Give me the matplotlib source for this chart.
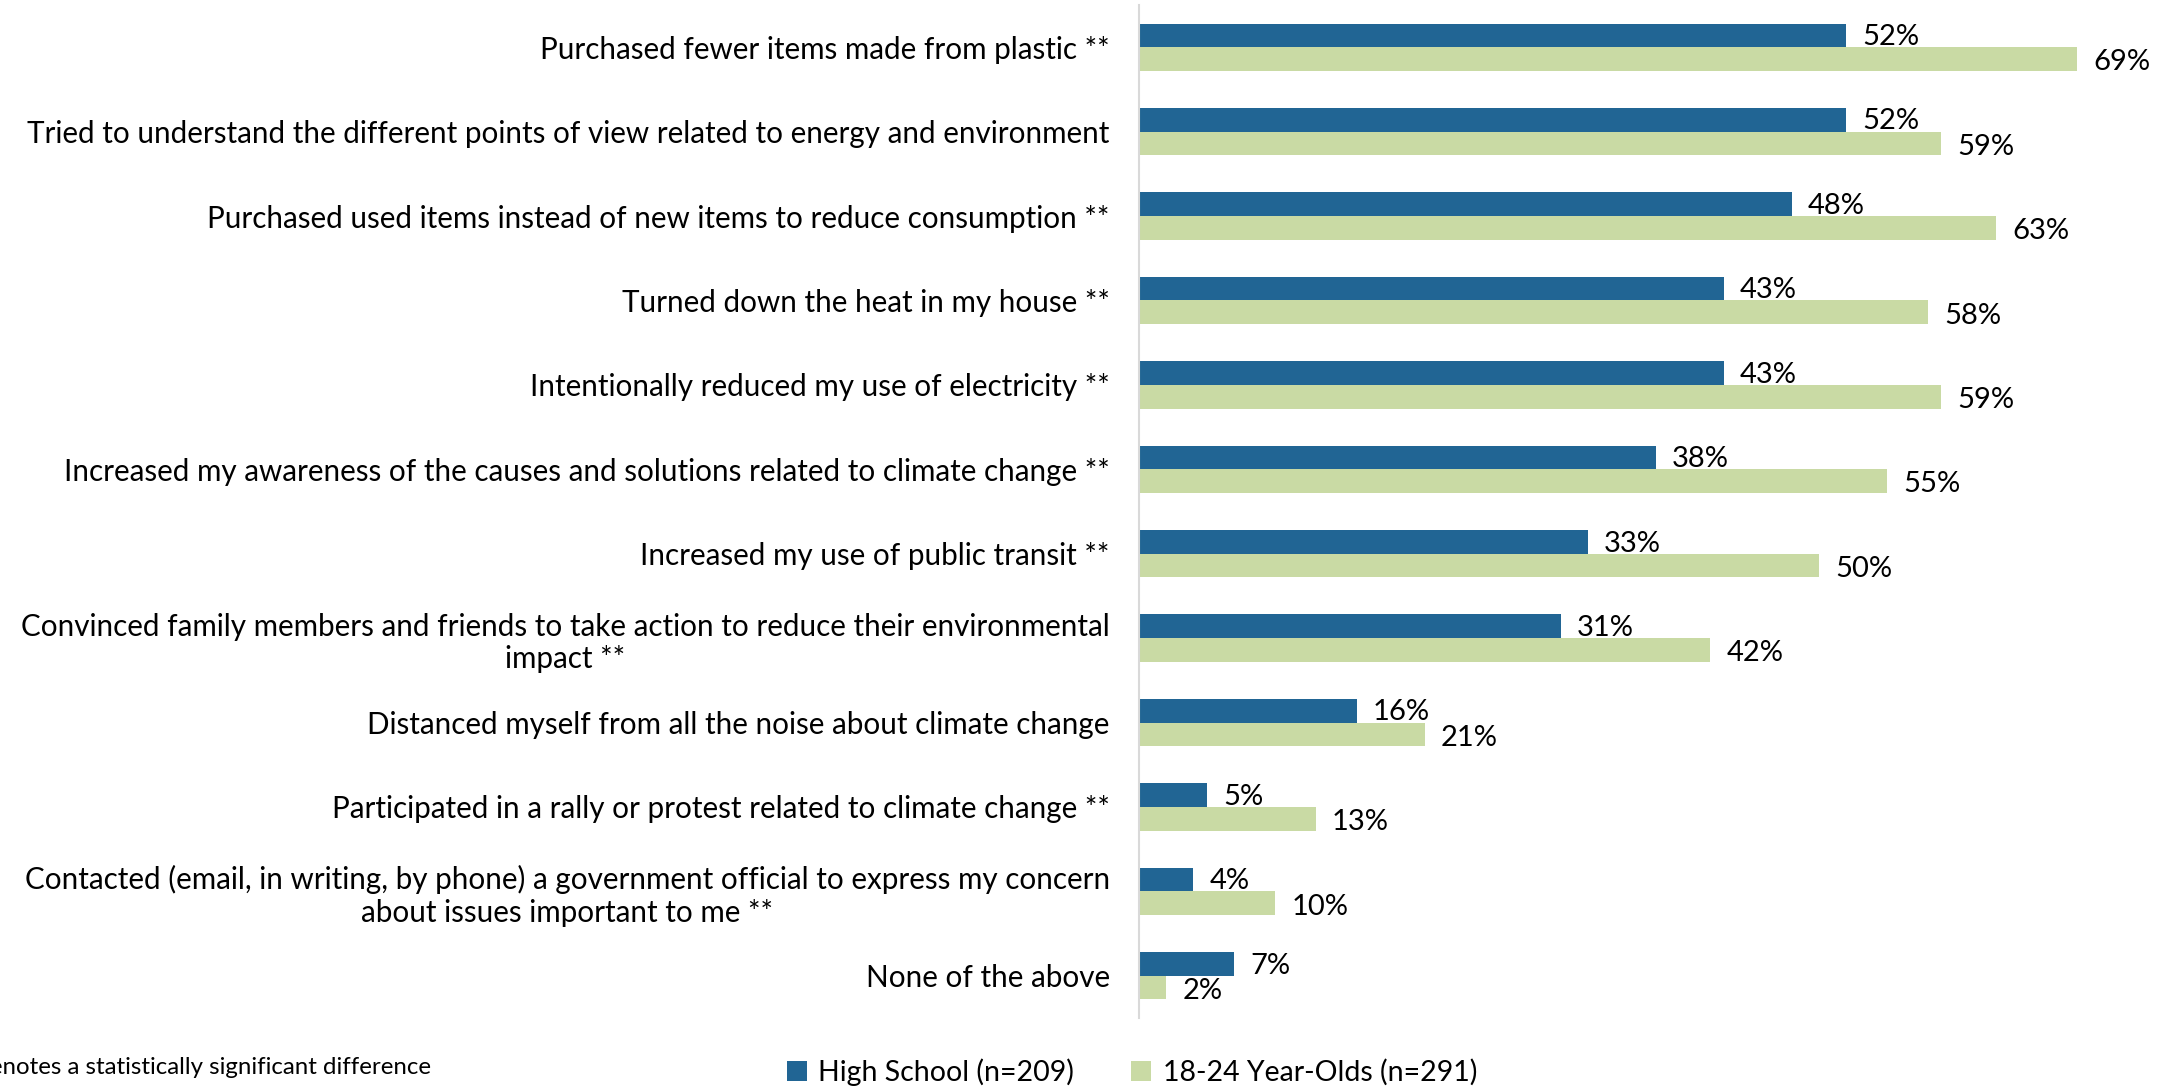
import matplotlib
matplotlib.use('Agg')
import matplotlib.pyplot as plt
import numpy as np

# survey items, top to bottom
categories = [
    "Purchased fewer items made from plastic **",
    "Tried to understand the different points of view related to energy and environment",
    "Purchased used items instead of new items to reduce consumption **",
    "Turned down the heat in my house **",
    "Intentionally reduced my use of electricity **",
    "Increased my awareness of the causes and solutions related to climate change **",
    "Increased my use of public transit **",
    "Convinced family members and friends to take action to reduce their environmental\nimpact **",
    "Distanced myself from all the noise about climate change",
    "Participated in a rally or protest related to climate change **",
    "Contacted (email, in writing, by phone) a government official to express my concern\nabout issues important to me **",
    "None of the above",
]
high_school = [52, 52, 48, 43, 43, 38, 33, 31, 16, 5, 4, 7]
young_adults = [69, 59, 63, 58, 59, 55, 50, 42, 21, 13, 10, 2]
series_names = ["High School (n=209)", "18-24 Year-Olds (n=291)"]

BLUE = '#216594'
GREEN = '#C9DAA4'
FONT = 'Lato'

fig = plt.figure(figsize=(21.7, 10.87), dpi=100)
ax = fig.add_axes([1139 / 2170, 1 - 1018 / 1087, (2159 - 1139) / 2170, (1018 - 5) / 1087])

y = np.arange(len(categories))
h = 0.28
ax.barh(y - h / 2, high_school, height=h, color=BLUE, label=series_names[0])
ax.barh(y + h / 2, young_adults, height=h, color=GREEN, label=series_names[1])

for i in range(len(categories)):
    ax.text(high_school[i] + 1.2, y[i] - h / 2 + 0.02, f"{high_school[i]}%",
            va='center', ha='left', fontsize=21, family=FONT)
    ax.text(young_adults[i] + 1.2, y[i] + h / 2 + 0.04, f"{young_adults[i]}%",
            va='center', ha='left', fontsize=21, family=FONT)

ax.set_ylim(len(categories) - 0.5, -0.5)
ax.set_xlim(0, 75)
ax.set_yticks(y)
ax.set_yticklabels(categories, fontsize=21.3, family=FONT)
for lbl in ax.get_yticklabels():
    lbl.set_horizontalalignment('right')
    lbl.set_multialignment('center')
ax.tick_params(axis='y', length=0, pad=21)
ax.set_xticks([])

for s in ['top', 'right', 'bottom']:
    ax.spines[s].set_visible(False)
ax.spines['left'].set_color('#D9D9D9')
ax.spines['left'].set_linewidth(1.5)

# footnote runs off the left edge in the original
fig.text(431 / 2170, 1 - 1068 / 1087, "** Denotes a statistically significant difference",
         ha='right', va='center', fontsize=17.3, family=FONT)

fig.legend(loc='center', bbox_to_anchor=(1132 / 2170, 1 - 1072 / 1087), ncol=2,
           frameon=False, prop={'family': FONT, 'size': 20.5}, handlelength=0.7,
           handleheight=0.7, columnspacing=2.0, handletextpad=0.4)

fig.savefig('out.png', dpi=100)
